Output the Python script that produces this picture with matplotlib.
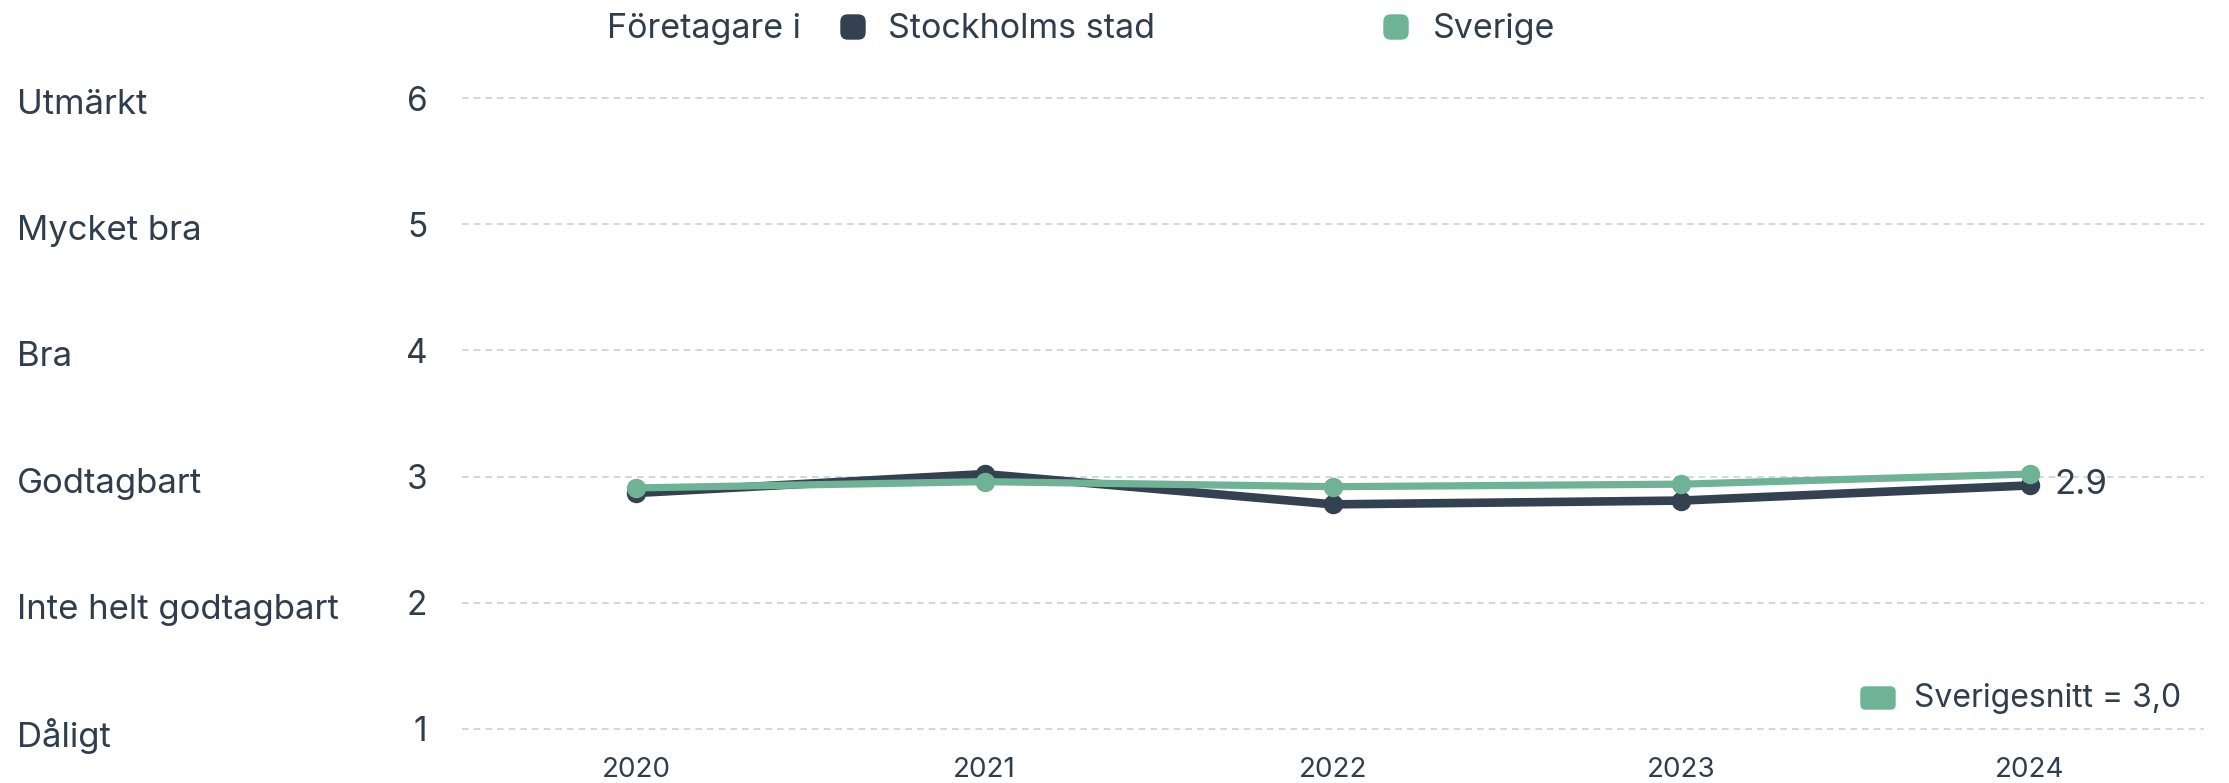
import matplotlib
matplotlib.use("Agg")
import matplotlib.pyplot as plt
from matplotlib.patches import FancyBboxPatch
from matplotlib.transforms import blended_transform_factory, offset_copy

plt.rcParams['font.family'] = ['Inter', 'DejaVu Sans']

years = ["2020", "2021", "2022", "2023", "2024"]
stockholm = [2.87, 3.02, 2.78, 2.81, 2.93]
sverige = [2.91, 2.96, 2.92, 2.94, 3.02]
y_ticks = [1, 2, 3, 4, 5, 6]
y_cat_labels = ["Dåligt", "Inte helt godtagbart", "Godtagbart", "Bra", "Mycket bra", "Utmärkt"]
last_label = "2.9"
legend_title = "Företagare i"
series_names = ["Stockholms stad", "Sverige"]
avg_label = "Sverigesnitt = 3,0"

TEXT = "#2f3d4c"
C_STH = "#334150"
C_SVE = "#6fb396"

W, H = 2229, 783
fig = plt.figure(figsize=(W / 100, H / 100), dpi=100)
left, right = 462 / W, 2204 / W
top_px, bot_px = 85.4, 741.6
ax = fig.add_axes([left, 1 - bot_px / H, right - left, (bot_px - top_px) / H])

x = list(range(len(years)))
ax.set_xlim(-0.5, len(years) - 0.5)
ax.set_ylim(0.9, 6.1)

for yv in y_ticks:
    ax.axhline(yv, color="#cfcfcf", lw=1.2, ls=(0, (4, 3)), zorder=1)

ax.plot(x, stockholm, color=C_STH, lw=6.2, marker="o", ms=13, zorder=3,
        solid_joinstyle="round", clip_on=False)
ax.plot(x, sverige, color=C_SVE, lw=5.2, marker="o", ms=13, zorder=4,
        solid_joinstyle="round", clip_on=False)

ax.annotate(last_label, (x[-1], stockholm[-1]), xytext=(18, 0), textcoords="offset points",
            ha="left", va="center", fontsize=25, color=TEXT)

ax.set_xticks(x)
ax.set_xticklabels(years, fontsize=20, color=TEXT)
ax.set_yticks(y_ticks)
ax.set_yticklabels([str(v) for v in y_ticks], fontsize=24, color=TEXT)
ax.tick_params(axis="x", length=0, pad=11)
ax.tick_params(axis="y", length=0, pad=25)
for s in ax.spines.values():
    s.set_visible(False)

trans = blended_transform_factory(fig.transFigure, ax.transData)
trans = offset_copy(trans, fig=fig, x=0, y=-7, units="dots")
for yv, lab in zip(y_ticks, y_cat_labels):
    ax.text(17 / W, yv, lab, transform=trans, ha="left", va="center",
            fontsize=25, color=TEXT)

# top legend
ty = 1 - 29 / H
fig.text(607 / W, ty, legend_title, ha="left", va="center", fontsize=24.5, color=TEXT)
sq = 24
for xs, xt, col, name in [(841, 888, C_STH, series_names[0]), (1384, 1433, C_SVE, series_names[1])]:
    fig.patches.append(FancyBboxPatch((xs / W, (H - 27 - sq / 2) / H), sq / W, sq / H,
                                      boxstyle="round,pad=0,rounding_size=0.003",
                                      transform=fig.transFigure, color=col,
                                      mutation_aspect=W / H))
    fig.text(xt / W, ty, name, ha="left", va="center", fontsize=24.5, color=TEXT)

# bottom right legend
by = 698
fig.patches.append(FancyBboxPatch((1861 / W, (H - by - 11) / H), 34 / W, 22 / H,
                                  boxstyle="round,pad=0,rounding_size=0.002",
                                  transform=fig.transFigure, color=C_SVE,
                                  mutation_aspect=W / H))
fig.text(1914 / W, 1 - by / H, avg_label, ha="left", va="center", fontsize=23, color=TEXT)

fig.savefig("out.png", dpi=100, facecolor="white")
